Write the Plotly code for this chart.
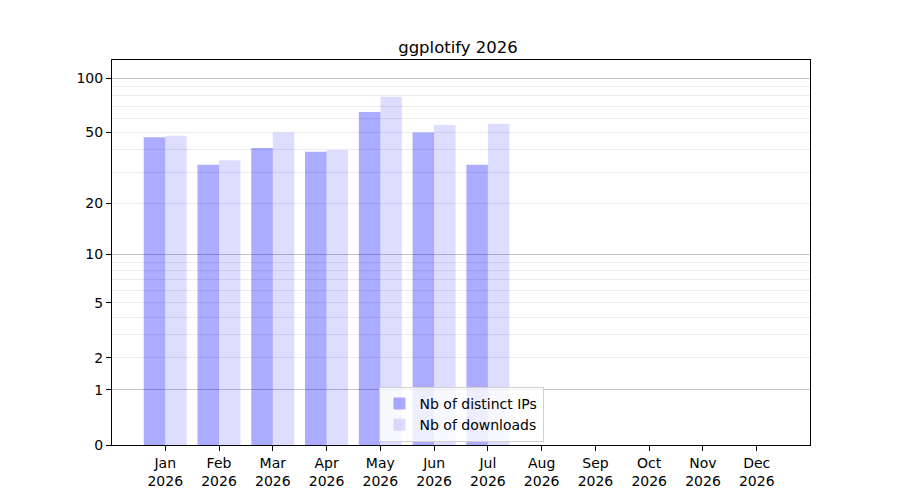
import numpy as np
import plotly.graph_objects as go

# monthly stats
months = ['Jan', 'Feb', 'Mar', 'Apr', 'May', 'Jun', 'Jul', 'Aug', 'Sep', 'Oct', 'Nov', 'Dec']
year = '2026'
distinct_ips = [47, 33, 41, 39, 65, 50, 33, 0, 0, 0, 0, 0]
downloads = [48, 35, 50, 40, 79, 55, 56, 0, 0, 0, 0, 0]

y_ticks = [0, 1, 2, 5, 10, 20, 50, 100]
y_major_grid = [1, 10, 100]
y_minor_grid = [3, 4, 6, 7, 8, 9, 30, 40, 60, 70, 80, 90]


def fwd(v):
    # log(1 + x) scale, like the function scale of the original
    return np.log10(1 + np.asarray(v, dtype=float))


x = np.arange(len(months))
y_range = [0, 2.104]
font = 'DejaVu Sans'
light_grid = '#ebebeb'

fig = go.Figure()
fig.add_trace(go.Bar(
    x=x, y=fwd(distinct_ips), name='Nb of distinct IPs',
    marker=dict(color='rgba(0,0,255,0.33)', line=dict(width=0)),
    customdata=distinct_ips, hovertemplate='%{customdata}<extra></extra>',
))
fig.add_trace(go.Bar(
    x=x, y=fwd(downloads), name='Nb of downloads',
    marker=dict(color='rgba(0,0,255,0.135)', line=dict(width=0)),
    customdata=downloads, hovertemplate='%{customdata}<extra></extra>',
))
# invisible helper so the overlay axis (darker decade grid) gets drawn
fig.add_trace(go.Scatter(
    x=[0], y=[0], yaxis='y2', mode='markers', marker=dict(opacity=0),
    showlegend=False, hoverinfo='skip',
))

# the page body adds an 8px offset, margins below account for it
fig.update_layout(
    width=900, height=500,
    margin=dict(l=104, r=98, t=52, b=63),
    paper_bgcolor='white', plot_bgcolor='white',
    font=dict(family=font, size=14, color='black'),
    title=dict(text='ggplotify 2026', x=0.5, xanchor='center', y=0.91, yanchor='bottom',
               font=dict(size=16.5)),
    barmode='group', bargap=0.2, bargroupgap=0,
    showlegend=True,
    legend=dict(x=0.5, xanchor='center', y=0.008, yanchor='bottom',
                bgcolor='rgba(255,255,255,0.8)', bordercolor='#d0d0d0', borderwidth=1,
                font=dict(size=14), traceorder='normal'),
    xaxis=dict(
        range=[-0.99, 11.99], tickmode='array', tickvals=x,
        ticktext=[f'{m}<br>{year}' for m in months],
        showgrid=False, zeroline=False, showline=True, linecolor='black', linewidth=1,
        mirror=True, ticks='outside', ticklen=5, tickcolor='black',
    ),
    yaxis=dict(
        range=y_range, tickmode='array', tickvals=fwd(y_ticks),
        ticktext=[str(t) for t in y_ticks],
        showgrid=True, gridcolor=light_grid, gridwidth=1,
        zeroline=False, showline=True, linecolor='black', linewidth=1,
        mirror=True, ticks='outside', ticklen=5, tickcolor='black',
        minor=dict(tickmode='array', tickvals=fwd(y_minor_grid), showgrid=True,
                   gridcolor=light_grid, gridwidth=1, ticks=''),
    ),
    yaxis2=dict(
        range=y_range, overlaying='y', side='left', tickmode='array',
        tickvals=fwd(y_major_grid), showticklabels=False, ticks='',
        showgrid=True, gridcolor='#c4c4c4', gridwidth=1, zeroline=False, showline=False,
    ),
)

fig.write_html('out.html')
